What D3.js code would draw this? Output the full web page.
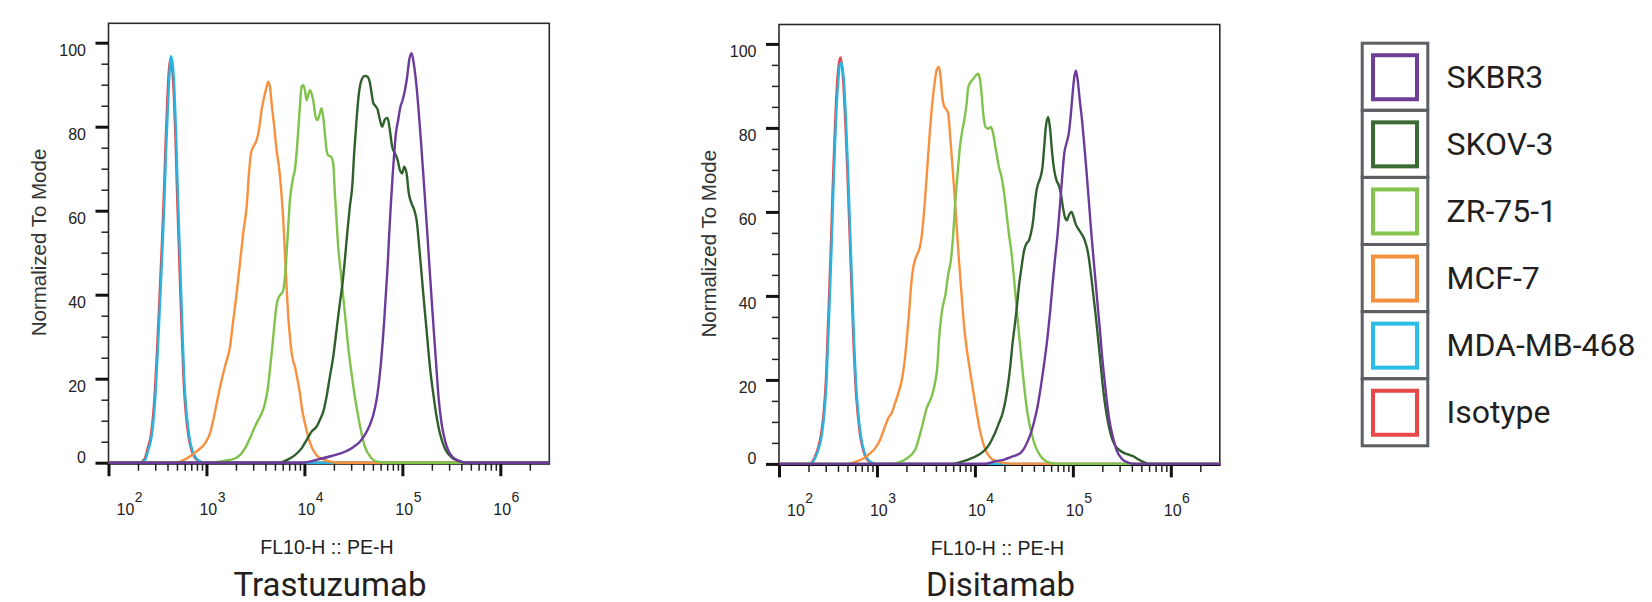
<!DOCTYPE html>
<html><head><meta charset="utf-8">
<script src="https://cdn.jsdelivr.net/npm/d3@7"></script>
<style>html,body{margin:0;padding:0;background:#fff;} svg{display:block;}</style>
</head><body>
<svg id="chart" width="1652" height="602"></svg>
<script>
// ---------- names, colours, labels ----------
const seriesNames = ["SKBR3", "SKOV-3", "ZR-75-1", "MCF-7", "MDA-MB-468", "Isotype"];
const legendColors = ["#6f3f98", "#3a6b35", "#84c44f", "#f39140", "#2bbde6", "#e84848"];
const lineColors   = ["#6c3a9c", "#2f5f2b", "#7fc24c", "#f7903f", "#2ab4e2", "#e5474a"];
const panelTitles = ["Trastuzumab", "Disitamab"];
const xAxisTitle = "FL10-H :: PE-H";
const yAxisTitle = "Normalized To Mode";
const yTicksMajor = [0, 20, 40, 60, 80, 100];
const yTicksMinor = [5, 10, 15, 25, 30, 35, 45, 50, 55, 65, 70, 75, 85, 90, 95];
const xTickExponents = [2, 3, 4, 5, 6];
const xDomainExponents = [2, 6.5];

// ---------- data: [log10(FL10-H), % of mode] ----------
const trasSKBR3 = [[2.0,0],[3.971,0],[4.141,0.8],[4.277,1.6],[4.413,2.6],[4.498,3.7],[4.566,5],[4.617,6.6],[4.668,9],[4.702,11.3],[4.736,14.9],[4.760,18.9],[4.781,23.7],[4.798,28.4],[4.815,34],[4.832,40.3],[4.849,46.7],[4.866,54.6],[4.883,61.7],[4.900,68.1],[4.917,73.7],[4.934,78.4],[4.957,81.6],[4.981,84.8],[5.002,86.3],[5.026,88.7],[5.049,91.9],[5.070,95.9],[5.094,97.5],[5.121,94.3],[5.145,89.5],[5.168,83.2],[5.189,76.8],[5.213,68.9],[5.236,61],[5.257,53.8],[5.281,45.1],[5.304,37.1],[5.325,30],[5.349,22.1],[5.372,14.9],[5.400,9.4],[5.434,5.4],[5.475,2.6],[5.529,1],[5.604,0.2],[5.689,0],[6.5,0]];
const trasSKOV3 = [[2.0,0],[3.750,0],[3.835,0.8],[3.903,1.8],[3.971,3.4],[4.022,5.4],[4.073,7.4],[4.124,8.6],[4.158,10.2],[4.192,12.1],[4.226,15.7],[4.260,20.5],[4.294,25.2],[4.328,31.6],[4.362,38],[4.389,42.7],[4.413,48.3],[4.437,54.6],[4.464,61],[4.488,65.7],[4.508,73.7],[4.532,81.6],[4.556,87.9],[4.583,91.1],[4.617,92.1],[4.644,91.9],[4.668,90.5],[4.685,88.1],[4.702,85.7],[4.726,84.9],[4.747,84.1],[4.770,81.7],[4.794,80.0],[4.821,81.7],[4.849,82.1],[4.872,79.2],[4.896,75.2],[4.923,73.7],[4.951,72.1],[4.974,69.7],[4.998,68.9],[5.019,70.5],[5.043,68.9],[5.066,64.1],[5.094,61.7],[5.121,60.2],[5.145,57.8],[5.178,49.8],[5.213,40.3],[5.247,31.6],[5.281,22.9],[5.315,16.5],[5.349,11],[5.383,7],[5.434,3.4],[5.502,1.3],[5.570,0.5],[5.655,0],[6.5,0]];
const trasZR751 = [[2.0,0],[3.0,0],[3.189,0.5],[3.291,1],[3.342,1.8],[3.393,3.4],[3.444,5.8],[3.495,8.6],[3.529,10.2],[3.563,11.7],[3.597,14.1],[3.624,17.3],[3.648,22.1],[3.672,27.6],[3.692,32.4],[3.709,36.3],[3.726,38.7],[3.740,39.5],[3.767,40.3],[3.784,41.1],[3.801,44.3],[3.818,49.8],[3.835,56.2],[3.852,62.5],[3.869,65.7],[3.886,68.1],[3.903,69.7],[3.920,73.7],[3.937,79.2],[3.954,84.8],[3.971,89.5],[3.988,89.9],[4.005,88.7],[4.022,86.3],[4.039,87.5],[4.056,88.7],[4.073,87.9],[4.090,86.3],[4.114,82.4],[4.134,81.6],[4.158,83.2],[4.175,84.4],[4.192,82.4],[4.209,78.4],[4.226,74.4],[4.243,73.2],[4.270,72.9],[4.294,71.3],[4.311,64.1],[4.328,57.8],[4.345,51.4],[4.369,45.9],[4.396,39.5],[4.420,34],[4.447,27.6],[4.481,21.3],[4.515,15.7],[4.549,11],[4.583,7],[4.617,3.8],[4.651,2.2],[4.686,1],[4.754,0.2],[4.856,0],[6.5,0]];
const trasMCF7 = [[2.0,0],[2.69,0],[2.781,0.8],[2.849,1.8],[2.917,3],[2.985,4.6],[3.036,7],[3.070,10.2],[3.104,14.1],[3.155,19.7],[3.189,22.9],[3.240,27.6],[3.274,34],[3.308,40.3],[3.342,47.5],[3.376,54.8],[3.410,60.9],[3.434,68.9],[3.454,73.7],[3.478,75.2],[3.512,76.8],[3.536,79.2],[3.563,84],[3.590,87.1],[3.614,89.5],[3.631,90.7],[3.648,89.5],[3.665,85.6],[3.692,80],[3.716,74.4],[3.740,70.5],[3.760,65.7],[3.784,57.8],[3.801,49.8],[3.818,41.9],[3.835,34.8],[3.852,30],[3.876,25.2],[3.903,22.9],[3.930,19.7],[3.954,16.5],[3.978,12.5],[4.005,9.4],[4.039,6.2],[4.073,3.8],[4.124,1.8],[4.192,0.8],[4.277,0.2],[4.345,0],[6.5,0]];
const trasMDA = [[2.0,0],[2.321,0],[2.372,0.6],[2.406,3],[2.44,6.2],[2.474,14.1],[2.502,26],[2.526,37.9],[2.549,49.8],[2.570,61.7],[2.587,73.7],[2.604,83.2],[2.621,91.9],[2.638,96.8],[2.655,95],[2.672,89.5],[2.689,79.2],[2.706,65.7],[2.723,53.8],[2.740,41.9],[2.757,30],[2.774,19.7],[2.798,11.7],[2.821,7],[2.855,3],[2.917,0.6],[2.985,0],[6.5,0]];
const trasIso = [[2.0,0],[2.315,0],[2.366,0.8],[2.40,3.4],[2.434,6.8],[2.468,15],[2.496,27],[2.520,39],[2.543,51],[2.564,63],[2.581,75],[2.598,85],[2.615,93],[2.632,96.2],[2.649,94],[2.666,88],[2.683,78],[2.700,64],[2.717,52],[2.734,40],[2.751,29],[2.768,19],[2.792,11],[2.815,6.5],[2.849,2.8],[2.911,0.5],[2.98,0],[6.5,0]];

const disSKBR3 = [[2.0,0],[4.102,0],[4.204,0.6],[4.306,1.1],[4.374,1.7],[4.425,2.1],[4.469,2.7],[4.503,3.7],[4.537,5.3],[4.571,7.3],[4.605,10.1],[4.639,13.6],[4.673,18.4],[4.707,23.9],[4.741,30.1],[4.769,36.5],[4.793,42.8],[4.816,48.4],[4.844,54.7],[4.867,61.2],[4.891,68.3],[4.912,73.9],[4.935,76.4],[4.959,78.8],[4.980,83.4],[4.997,88.1],[5.014,92],[5.031,93.6],[5.048,91.6],[5.071,86.5],[5.095,81.5],[5.116,76.1],[5.139,69.7],[5.163,62.6],[5.184,56.2],[5.207,49.9],[5.231,43.6],[5.252,38],[5.276,31.9],[5.299,25.5],[5.327,19.2],[5.354,13.6],[5.378,9.7],[5.412,6.1],[5.446,3.3],[5.497,1.3],[5.565,0.3],[5.633,0],[6.5,0]];
const disSKOV3 = [[2.0,0],[3.78,0],[3.813,0.2],[3.932,1],[4.034,2.1],[4.102,3.3],[4.153,4.9],[4.204,7.3],[4.245,9.7],[4.282,12],[4.313,15.2],[4.340,19.2],[4.364,23.9],[4.384,28.7],[4.405,32.6],[4.425,36.6],[4.449,42.2],[4.476,46.9],[4.503,50.9],[4.527,52.5],[4.551,53.2],[4.571,54.8],[4.595,58],[4.612,62],[4.629,65.1],[4.646,66.7],[4.670,68.3],[4.690,70.7],[4.707,75.4],[4.724,80.2],[4.748,82.6],[4.769,79.4],[4.789,73.9],[4.810,69.9],[4.833,67.5],[4.857,66.3],[4.878,64.3],[4.898,61.2],[4.918,58.8],[4.939,58],[4.959,59.2],[4.986,60],[5.007,58.8],[5.027,57.2],[5.054,56],[5.088,54.8],[5.122,53.2],[5.156,50.1],[5.184,45.3],[5.207,40.6],[5.231,35.8],[5.252,31.1],[5.276,25.5],[5.299,20],[5.327,14.4],[5.354,10.5],[5.388,6.9],[5.429,4.5],[5.480,3.2],[5.531,2.5],[5.582,2.1],[5.626,1.7],[5.667,1.1],[5.718,0.5],[5.769,0],[6.5,0]];
const disZR751 = [[2.0,0],[3.116,0],[3.218,0.3],[3.303,1.3],[3.388,3.3],[3.456,8.5],[3.507,13.2],[3.558,16],[3.592,19.2],[3.616,23.1],[3.633,29.5],[3.660,35.8],[3.701,40.6],[3.728,45.3],[3.755,48.5],[3.779,54.8],[3.796,61.2],[3.823,69.1],[3.847,75.4],[3.871,79.4],[3.891,81.8],[3.915,85.7],[3.932,89.7],[3.956,90.9],[3.983,91.7],[4.010,92.5],[4.034,92.9],[4.051,91.7],[4.068,88.1],[4.085,83.4],[4.109,80.2],[4.136,79.8],[4.163,80.2],[4.187,78.6],[4.204,76.2],[4.221,73.9],[4.245,70.7],[4.272,68.3],[4.299,64.3],[4.323,59.6],[4.347,54.8],[4.374,50.1],[4.401,43.7],[4.425,37.4],[4.449,31.1],[4.476,24.7],[4.503,18.4],[4.537,12],[4.578,7.3],[4.619,4.1],[4.663,2.1],[4.714,0.8],[4.782,0.2],[4.850,0],[6.5,0]];
const disMCF7 = [[2.0,0],[2.707,0],[2.793,0.6],[2.861,1.3],[2.929,2.5],[2.980,3.7],[3.031,5.7],[3.082,8.9],[3.116,10.9],[3.150,12.1],[3.184,14.4],[3.218,16.8],[3.252,19.8],[3.279,23.8],[3.303,29.3],[3.327,35.7],[3.347,42],[3.367,46.2],[3.388,48.5],[3.415,50.1],[3.439,51.7],[3.456,54.1],[3.473,58],[3.490,62.8],[3.507,68.3],[3.524,73.9],[3.541,79.4],[3.558,84.2],[3.575,88.1],[3.592,91.3],[3.609,93.7],[3.633,94.5],[3.650,92],[3.667,87.3],[3.687,85.1],[3.707,84.5],[3.728,83.4],[3.748,77.8],[3.769,71.5],[3.789,65.1],[3.810,58],[3.830,50.8],[3.850,44.5],[3.871,38],[3.891,32.5],[3.915,27.7],[3.939,23.8],[3.966,19.8],[3.993,15.8],[4.020,12],[4.048,8.4],[4.075,5.7],[4.109,3.3],[4.153,1.6],[4.204,0.8],[4.306,0.2],[4.374,0],[6.5,0]];
const disMDA = [[2.0,0],[2.316,0],[2.367,1.3],[2.401,3.3],[2.435,6.5],[2.463,12],[2.486,19.8],[2.503,30.1],[2.520,40.4],[2.537,51.7],[2.554,64.3],[2.571,75.4],[2.588,84.9],[2.605,91.1],[2.622,95.1],[2.636,95.6],[2.650,94.1],[2.667,89.7],[2.684,81.8],[2.701,72.3],[2.718,61.2],[2.735,50.1],[2.752,39],[2.769,27.9],[2.786,19.3],[2.810,12],[2.837,6.5],[2.871,2.9],[2.929,0.6],[2.997,0],[6.5,0]];
const disIso = [[2.0,0],[2.31,0],[2.361,1.4],[2.395,3.5],[2.429,7],[2.457,12.5],[2.48,20.5],[2.497,31],[2.514,41.5],[2.531,53],[2.548,65.5],[2.565,76.5],[2.582,86],[2.599,92.5],[2.616,96],[2.630,96.8],[2.644,94.5],[2.661,89],[2.678,81],[2.695,71.5],[2.712,60.5],[2.729,49.5],[2.746,38.5],[2.763,27.5],[2.78,19],[2.804,11.8],[2.831,6.4],[2.865,2.8],[2.923,0.5],[2.99,0],[6.5,0]];

// series per panel, in legend order
const panelSeries = [
  [trasSKBR3, trasSKOV3, trasZR751, trasMCF7, trasMDA, trasIso],
  [disSKBR3, disSKOV3, disZR751, disMCF7, disMDA, disIso]
];

// ---------- drawing ----------
const svg = d3.select("#chart");
const AXIS_FONT = "'Liberation Sans', Arial, sans-serif";
const TITLE_FONT = "Roboto, 'Noto Sans', sans-serif";
const panelOffsets = [[0, 0], [670.5, 1.2]];
const frameTop = 23.3;

const x = d3.scaleLog()
  .domain([Math.pow(10, xDomainExponents[0]), Math.pow(10, xDomainExponents[1])])
  .range([108.5, 549.3]);
const y = d3.scaleLinear().domain([0, 100]).range([462.7, 42.7]);
const [x0, x1] = x.range();

const xMinorValues = [];
xTickExponents.forEach(e => {
  for (let m = 2; m <= 9; m++) {
    const v = m * Math.pow(10, e);
    if (x(v) < x1 - 8) xMinorValues.push(v);
  }
});

const line = d3.line()
  .x(d => x(Math.pow(10, d[0])))
  .y(d => y(d[1]))
  .curve(d3.curveMonotoneX);

panelSeries.forEach((seriesList, pi) => {
  const g = svg.append("g").attr("transform", `translate(${panelOffsets[pi][0]},${panelOffsets[pi][1]})`);

  // clip
  const clipId = "clip" + pi;
  g.append("clipPath").attr("id", clipId)
    .append("rect").attr("x", x0).attr("y", frameTop).attr("width", x1 - x0).attr("height", y(0) - frameTop + 2);

  // frame
  g.append("rect")
    .attr("x", x0).attr("y", frameTop)
    .attr("width", x1 - x0).attr("height", y(0) - frameTop)
    .attr("fill", "none").attr("stroke", "#2a2a2a").attr("stroke-width", 1.6);

  // y minor ticks
  g.append("g").attr("transform", `translate(${x0},0)`)
    .call(d3.axisLeft(y).tickValues(yTicksMinor).tickSize(7).tickFormat(""))
    .call(s => s.select(".domain").remove())
    .selectAll("line").attr("stroke", "#222").attr("stroke-width", 1.5);
  // y major ticks
  g.append("g").attr("transform", `translate(${x0},0)`)
    .call(d3.axisLeft(y).tickValues(yTicksMajor).tickSize(13).tickFormat(""))
    .call(s => s.select(".domain").remove())
    .selectAll("line").attr("stroke", "#111").attr("stroke-width", 3);
  // y tick labels
  g.selectAll(".ylab").data(yTicksMajor).join("text")
    .attr("class", "ylab")
    .attr("x", 86)
    .attr("y", d => d === 0 ? y(d) : y(d) + 13)
    .attr("text-anchor", "end")
    .attr("font-family", AXIS_FONT).attr("font-size", 16).attr("fill", "#222")
    .text(d => d);

  // x minor ticks
  g.append("g").attr("transform", `translate(0,${y(0)})`)
    .call(d3.axisBottom(x).tickValues(xMinorValues).tickSize(8).tickFormat(""))
    .call(s => s.select(".domain").remove())
    .selectAll("line").attr("stroke", "#222").attr("stroke-width", 1.5);
  // x major ticks
  g.append("g").attr("transform", `translate(0,${y(0)})`)
    .call(d3.axisBottom(x).tickValues(xTickExponents.map(e => Math.pow(10, e))).tickSize(13.5).tickFormat(""))
    .call(s => s.select(".domain").remove())
    .selectAll("line").attr("stroke", "#111").attr("stroke-width", 3);
  // x axis line
  g.append("line").attr("x1", x0 - 1).attr("x2", x1 + 0.8)
    .attr("y1", y(0) + 0.8).attr("y2", y(0) + 0.8)
    .attr("stroke", "#111").attr("stroke-width", 2.6);

  // x tick labels 10^n
  const xl = g.selectAll(".xlab").data(xTickExponents).join("text")
    .attr("class", "xlab")
    .attr("x", d => {
      const px = x(Math.pow(10, d));
      return d === xTickExponents[0] ? px + 8 : px - 7;
    })
    .attr("y", 515)
    .attr("font-family", AXIS_FONT).attr("font-size", 16).attr("fill", "#222");
  xl.append("tspan").text("10");
  xl.append("tspan").attr("font-size", 14).attr("dy", -13.5).attr("dx", 0.5).text(d => d);

  // curves (back to front: isotype first, SKBR3 on top)
  const order = d3.range(seriesList.length).reverse();
  g.append("g").attr("clip-path", `url(#${clipId})`)
    .selectAll("path").data(order).join("path")
    .attr("d", i => line(seriesList[i]))
    .attr("fill", "none")
    .attr("stroke", i => lineColors[i])
    .attr("stroke-width", 2.4)
    .attr("stroke-linejoin", "round");

  // axis titles
  g.append("text")
    .attr("x", 327).attr("y", 554)
    .attr("text-anchor", "middle")
    .attr("font-family", AXIS_FONT).attr("font-size", 19.5).attr("fill", "#222")
    .text(xAxisTitle);
  g.append("text")
    .attr("transform", "translate(45.5,242.5) rotate(-90)")
    .attr("text-anchor", "middle")
    .attr("font-family", AXIS_FONT).attr("font-size", 20.5).attr("fill", "#333")
    .text(yAxisTitle);

  // panel title
  g.append("text")
    .attr("x", 330).attr("y", 596 - panelOffsets[pi][1])
    .attr("text-anchor", "middle")
    .attr("font-family", TITLE_FONT).attr("font-size", 33).attr("fill", "#231f20")
    .text(panelTitles[pi]);
});

// ---------- legend ----------
const legendX = 1362.2, legendTop = 43.2, cellW = 65.6, cellH = 67.1;
const lg = svg.append("g");
seriesNames.forEach((name, i) => {
  const cy = legendTop + i * cellH;
  lg.append("rect")
    .attr("x", legendX).attr("y", cy)
    .attr("width", cellW).attr("height", cellH)
    .attr("fill", "none").attr("stroke", "#5c5f63").attr("stroke-width", 3);
  const cx = legendX + cellW / 2, ccy = cy + cellH / 2 + 0.5;
  lg.append("rect")
    .attr("x", cx - 22).attr("y", ccy - 22)
    .attr("width", 44).attr("height", 44)
    .attr("fill", "none").attr("stroke", legendColors[i]).attr("stroke-width", 4);
  lg.append("text")
    .attr("x", 1446.5).attr("y", cy + cellH / 2 + 11)
    .attr("font-family", TITLE_FONT).attr("font-size", 32).attr("fill", "#231f20")
    .text(name);
});
</script>
</body></html>
